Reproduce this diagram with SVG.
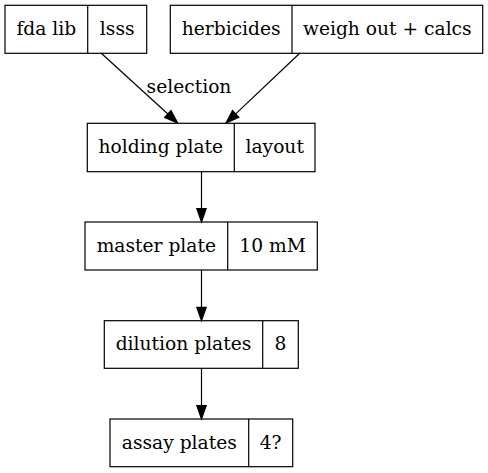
<svg xmlns="http://www.w3.org/2000/svg" width="488" height="473" viewBox="0 0 488 473">
<style>
.box{fill:none;stroke:#000;stroke-width:1.2}
.t{font-family:"DejaVu Serif",serif;font-size:18.67px;text-anchor:middle;fill:#000}
.e{fill:none;stroke:#000;stroke-width:1.2}
.h{fill:#000;stroke:#000;stroke-width:1.2}
</style>
<rect width="488" height="473" fill="#fff"/>
<g id="connectors">
<path class="e" d="M101,53 L167.9,114"/>
<polygon class="h" points="164.7,117.5 171,110.6 177.7,123"/>
<text class="t" x="189" y="93">selection</text>
<path class="e" d="M300,53 L235.7,113.9"/>
<polygon class="h" points="238.9,117.3 232.5,110.5 226,123"/>
<path class="e" d="M201.5,171.7 L201.5,208.7"/>
<polygon class="h" points="196.8,208.7 206.2,208.7 201.5,222"/>
<path class="e" d="M201.5,270 L201.5,307.4"/>
<polygon class="h" points="196.8,307.4 206.2,307.4 201.5,320.7"/>
<path class="e" d="M201.5,368.3 L201.5,405.7"/>
<polygon class="h" points="196.8,405.7 206.2,405.7 201.5,419"/>
</g>
<g id="fda">
<rect class="box" x="5" y="5.3" width="141.7" height="48"/>
<line class="box" x1="87.7" y1="5.3" x2="87.7" y2="53.3"/>
<text class="t" x="46.3" y="35">fda lib</text>
<text class="t" x="117.2" y="35">lsss</text>
</g>
<g id="herbicides">
<rect class="box" x="170.3" y="5.3" width="312.4" height="48"/>
<line class="box" x1="292" y1="5.3" x2="292" y2="53.3"/>
<text class="t" x="231.2" y="35">herbicides</text>
<text class="t" x="387.3" y="35">weigh out + calcs</text>
</g>
<g id="holding">
<rect class="box" x="87.3" y="123.3" width="227.7" height="48.4"/>
<line class="box" x1="234.3" y1="123.3" x2="234.3" y2="171.7"/>
<text class="t" x="160.8" y="153">holding plate</text>
<text class="t" x="274.7" y="153">layout</text>
</g>
<g id="master">
<rect class="box" x="85" y="222" width="232.3" height="48"/>
<line class="box" x1="227.7" y1="222" x2="227.7" y2="270"/>
<text class="t" x="156.3" y="251.5">master plate</text>
<text class="t" x="272.5" y="251.5">10 mM</text>
</g>
<g id="dilution">
<rect class="box" x="104.3" y="320.7" width="194" height="47.6"/>
<line class="box" x1="262.7" y1="320.7" x2="262.7" y2="368.3"/>
<text class="t" x="183.5" y="350">dilution plates</text>
<text class="t" x="280.5" y="350">8</text>
</g>
<g id="assay">
<rect class="box" x="110" y="419" width="182.7" height="47.7"/>
<line class="box" x1="248.7" y1="419" x2="248.7" y2="466.7"/>
<text class="t" x="179.3" y="448.5">assay plates</text>
<text class="t" x="270.7" y="448.5">4?</text>
</g>
</svg>
